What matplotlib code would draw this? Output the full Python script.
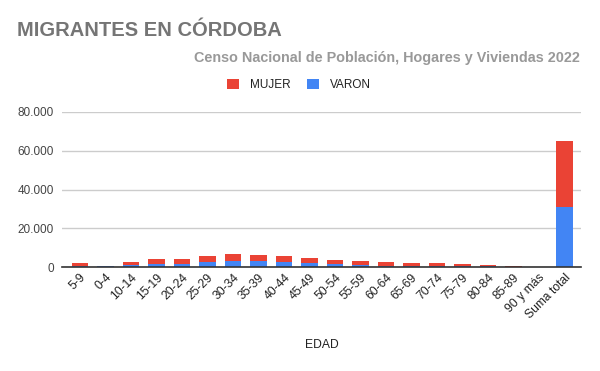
import matplotlib
matplotlib.use("Agg")
import matplotlib.pyplot as plt
from matplotlib.ticker import FuncFormatter, FixedLocator

plt.rcParams['font.family'] = ['Liberation Sans', 'DejaVu Sans']

categorias = ["5-9", "0-4", "10-14", "15-19", "20-24", "25-29", "30-34", "35-39",
              "40-44", "45-49", "50-54", "55-59", "60-64", "65-69", "70-74",
              "75-79", "80-84", "85-89", "90 y más", "Suma total"]
varon = [700, 300, 1050, 1750, 1750, 2800, 3100, 3100, 2800, 2100, 1750, 1050,
         700, 700, 700, 700, 350, 170, 120, 30850]
mujer = [1350, 250, 1500, 2350, 2350, 2850, 3550, 3050, 2850, 2550, 1850, 2050,
         1850, 1350, 1350, 850, 700, 350, 30, 34250]
y_ticks = [0, 20000, 40000, 60000, 80000]

RED = "#EA4335"
BLUE = "#4285F4"

fig = plt.figure(figsize=(6, 3.71), dpi=100)
ax = fig.add_axes([62/600, 1-267/371, (581-62)/600, (267-112)/371])

x = list(range(len(categorias)))
ax.bar(x, varon, width=0.65, color=BLUE, label="VARON", zorder=3)
ax.bar(x, mujer, width=0.65, bottom=varon, color=RED, label="MUJER", zorder=3)

ax.set_xlim(-0.7, len(categorias) - 0.35)
ax.set_ylim(0, 80000)
ax.yaxis.set_major_locator(FixedLocator(y_ticks))
ax.yaxis.set_major_formatter(FuncFormatter(lambda v, p: f"{int(v):,}".replace(",", ".")))
ax.grid(axis="y", color="#cccccc", linewidth=1, zorder=0)
ax.set_axisbelow(True)
for s in ["top", "right", "left"]:
    ax.spines[s].set_visible(False)
ax.spines["bottom"].set_color("#333333")
ax.spines["bottom"].set_linewidth(1.2)
ax.spines["bottom"].set_zorder(4)
ax.tick_params(axis="y", length=0, pad=6, labelsize=8.5, labelcolor="#444444")
ax.tick_params(axis="x", length=0, pad=3, labelsize=8.7, labelcolor="#222222")
ax.set_xticks(x)
ax.set_xticklabels(categorias, rotation=45, ha="right", rotation_mode="anchor")
ax.set_xlabel("EDAD", fontsize=8.7, color="#222222")
ax.xaxis.set_label_coords((322-62)/(581-62), -(339-267)/(267-112))

fig.text(17/600, 1-31/371, "MIGRANTES EN CÓRDOBA", fontsize=14.5, fontweight="bold",
         color="#757575", ha="left", va="center")
fig.text(580/600, 1-58/371, "Censo Nacional de Población, Hogares y Viviendas 2022",
         fontsize=10.4, fontweight="bold", color="#999999", ha="right", va="center")

h, l = ax.get_legend_handles_labels()
fig.legend(h[::-1], l[::-1], loc="center", bbox_to_anchor=(299/600, 1-85/371), ncol=2,
           frameon=False, fontsize=8.5, handlelength=1.0, handleheight=1.0,
           handletextpad=0.95, columnspacing=1.35, labelcolor="#222222")

fig.savefig("out.png", dpi=100)
